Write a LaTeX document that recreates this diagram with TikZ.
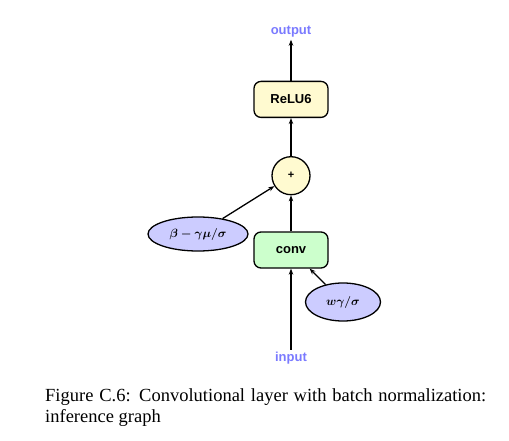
\documentclass[tikz,border=0pt]{standalone}
\usepackage{amsmath,amssymb}
\usepackage{fontspec}
\setmainfont{Liberation Serif}
\newfontfamily\labelfont{Liberation Sans}
\definecolor{boxyellow}{RGB}{255,250,208}
\definecolor{boxgreen}{RGB}{204,255,204}
\definecolor{ellblue}{RGB}{204,204,255}
\definecolor{lblblue}{RGB}{122,122,255}
\usetikzlibrary{positioning, arrows.meta, shapes.geometric}

\begin{document}
\begin{tikzpicture}[
    x=1pt, y=1pt,
    opbox/.style={draw, line width=1.3pt, rounded corners=7pt,
      minimum width=74pt, minimum height=36pt, inner sep=3pt,
      font=\labelfont\fontsize{13}{15}\selectfont\bfseries},
    opcirc/.style={draw, circle, line width=1.3pt, fill=boxyellow,
      minimum size=38pt, inner sep=0pt,
      font=\labelfont\fontsize{11}{13}\selectfont\bfseries},
    param/.style={draw, ellipse, line width=1.3pt, fill=ellblue, inner sep=0pt,
      font=\fontsize{12.5}{14}\selectfont\boldmath},
    io/.style={text=lblblue, inner sep=2pt,
      font=\labelfont\fontsize{13}{15}\selectfont\bfseries},
    flow/.style={-{Stealth[length=6pt, width=4.5pt]}, line width=1.3pt},
    node distance=36pt,
  ]
    \useasboundingbox (0,0) rectangle (509,440);
    % graph
    \node[opbox, fill=boxgreen] (conv) at (291,190) {conv};
    \node[opcirc, above=of conv] (add) {+};
    \node[opbox, fill=boxyellow, above=38pt of add] (relu) {ReLU6};
    \node[io, above=41pt of relu] (out) {output};
    \node[io, below=81pt of conv] (in) {input};
    \node[param, minimum width=100pt, minimum height=34pt] (bias) at (198,206) {$\beta-\gamma\mu/\sigma$};
    \node[param, minimum width=75pt, minimum height=38pt] (scale) at (343,138) {$w\gamma/\sigma$};
    \draw[flow] (in) -- (conv);
    \draw[flow] (scale) -- (conv);
    \draw[flow] (conv) -- (add);
    \draw[flow] (bias) -- (add);
    \draw[flow] (add) -- (relu);
    \draw[flow] (relu) -- (out);
    % caption
    \node[anchor=north west, inner sep=0pt, text width=441pt, align=justify,
      font=\fontsize{18.5}{21.5}\selectfont] (cap) at (45,52)
      {\hyphenpenalty=10000 Figure C.6: Convolutional layer with batch normalization:\linebreak inference graph};
  \end{tikzpicture}
\end{document}
